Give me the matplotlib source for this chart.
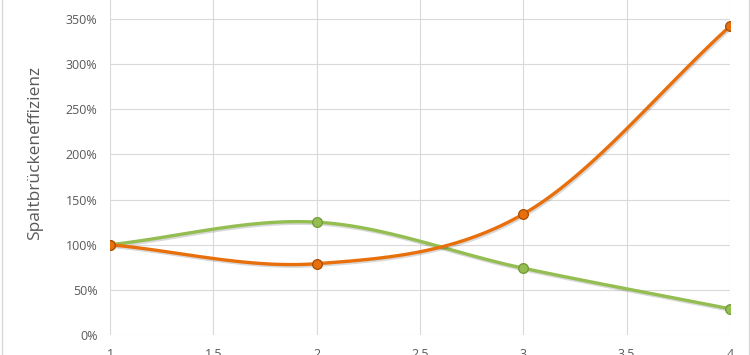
import matplotlib.pyplot as plt
import matplotlib.patheffects as pe
import numpy as np
from matplotlib.lines import Line2D
from matplotlib.ticker import FuncFormatter

x_vals = [1, 2, 3, 4]
green_vals = [100, 125, 74, 29]
orange_vals = [100, 79, 134, 342]

y_label = 'Spaltbrückeneffizienz'
x_ticks = [1, 1.5, 2, 2.5, 3, 3.5, 4]
x_tick_labels = ['1', '1.5', '2', '2.5', '3', '3.5', '4']
y_ticks = [0, 50, 100, 150, 200, 250, 300, 350]

GREEN = '#94bd52'
ORANGE = '#e8700c'
TXT = '#595959'
GRID = '#d9d9d9'


def smooth(xs, ys, n=40):
    # catmull-rom, roughly what office apps do for "smoothed line"
    xs = np.asarray(xs, float)
    ys = np.asarray(ys, float)
    px = np.concatenate([[2 * xs[0] - xs[1]], xs, [2 * xs[-1] - xs[-2]]])
    py = np.concatenate([[2 * ys[0] - ys[1]], ys, [2 * ys[-1] - ys[-2]]])
    out_x, out_y = [], []
    t = np.linspace(0, 1, n)
    for i in range(1, len(px) - 2):
        for p, out in ((px, out_x), (py, out_y)):
            p0, p1, p2, p3 = p[i - 1], p[i], p[i + 1], p[i + 2]
            out.extend(0.5 * ((2 * p1) + (-p0 + p2) * t
                              + (2 * p0 - 5 * p1 + 4 * p2 - p3) * t ** 2
                              + (-p0 + 3 * p1 - 3 * p2 + p3) * t ** 3))
    return np.array(out_x), np.array(out_y)


plt.rcParams['font.family'] = ['Open Sans', 'DejaVu Sans']

fig = plt.figure(figsize=(7.5, 3.55), dpi=100)
ax = fig.add_axes([110 / 750, 20 / 355, 620 / 750, 335 / 355])

for vals, col, edge in ((green_vals, GREEN, '#6f9a35'), (orange_vals, ORANGE, '#a84c05')):
    sx, sy = smooth(x_vals, vals)
    ax.plot(sx, sy, color=col, lw=2.4, solid_capstyle='round', zorder=3,
            path_effects=[pe.SimpleLineShadow(offset=(0.8, -1.2), alpha=0.15), pe.Normal()])
    ax.plot(x_vals, vals, 'o', ms=7, color=col, mec=edge, mew=0.9, zorder=4)

ax.set_xlim(1, 4)
ax.set_ylim(0, 350 + 19 / (316 / 350))
ax.set_xticks(x_ticks)
ax.set_xticklabels(x_tick_labels)
ax.set_yticks(y_ticks)
ax.yaxis.set_major_formatter(FuncFormatter(lambda v, p: f'{v:.0f}%'))

ax.grid(True, color=GRID, lw=0.8)
ax.set_axisbelow(True)
for s in ax.spines.values():
    s.set_visible(False)
ax.tick_params(length=0, labelsize=9, colors=TXT)
ax.tick_params(axis='y', pad=9)
ax.tick_params(axis='x', pad=9)

ax.set_ylabel(y_label, fontsize=12.5, color=TXT)
ax.yaxis.set_label_coords(-0.108, 0.543)

# thin frame lines at the image edges
fig.add_artist(Line2D([1.5 / 750, 1.5 / 750], [0, 1], color=GRID, lw=1))
fig.add_artist(Line2D([748.5 / 750, 748.5 / 750], [0, 1], color=GRID, lw=1))

fig.savefig('out.png', dpi=100)
